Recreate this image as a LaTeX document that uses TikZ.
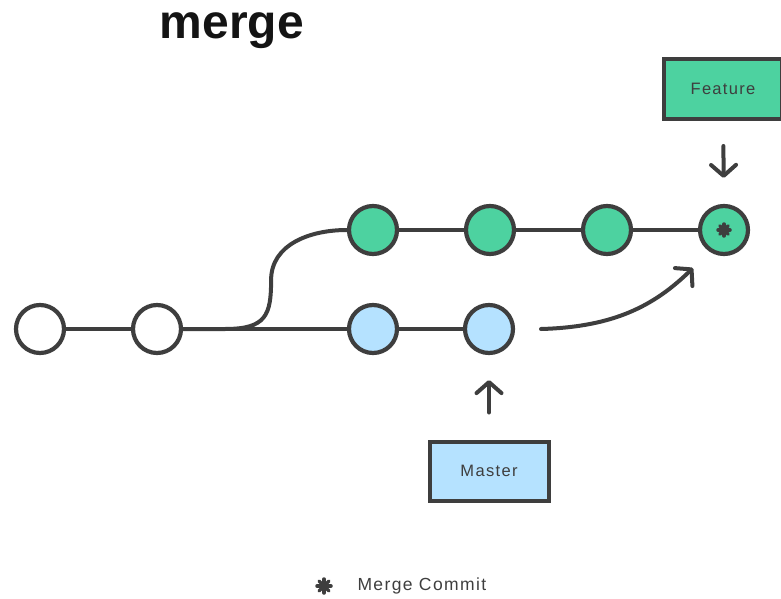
\documentclass[tikz,border=0pt]{standalone}
\usepackage{fontspec}
\setmainfont{Liberation Sans}
\usepackage{tikz}
\usetikzlibrary{arrows.meta}

\definecolor{gitgreen}{RGB}{77,210,160}
\definecolor{gitblue}{RGB}{181,226,255}
\definecolor{gitgray}{RGB}{62,62,62}

\tikzset{
	commit/.style={draw=gitgray, circle, line width=4.2pt, minimum size=48pt, inner sep=0pt},
	tagbox/.style={draw=gitgray, line width=4pt, text=gitgray, inner sep=0pt,
		font=\fontsize{16.5}{18}\selectfont\addfontfeature{LetterSpace=8}},
	edge/.style={draw=gitgray, line width=4pt},
	ptr/.style={draw=gitgray, line width=4pt, line cap=round,
		-{Straight Barb[length=11pt,width=25pt,round]}},
	spoke/.style={draw=gitgray, line width=3.5pt, line cap=round},
}

\begin{document}
\begin{tikzpicture}[x=1pt, y=-1pt]
	\useasboundingbox (0,0) rectangle (781,599);
	\draw (232,39) node(title) [anchor=base, font=\bfseries\fontsize{48}{48}\selectfont, text={rgb,255:red,20;green,20;blue,20}] {merge};
	\draw (40,329) node(c1) [commit, fill=white] {};
	\draw (157,329) node(c2) [commit, fill=white] {};
	\draw (373,329) node(b1) [commit, fill=gitblue] {};
	\draw (489,329) node(b2) [commit, fill=gitblue] {};
	\draw (373,230) node(g1) [commit, fill=gitgreen] {};
	\draw (490,230) node(g2) [commit, fill=gitgreen] {};
	\draw (607,230) node(g3) [commit, fill=gitgreen] {};
	\draw (724,230) node(m4) [commit, fill=gitgreen] {};
	\draw (723,89) node(feat) [tagbox, fill=gitgreen, minimum width=118pt, minimum height=60pt] {Feature};
	\draw (489,471) node(mast) [tagbox, fill=gitblue, minimum width=119pt, minimum height=59pt] {Master};
	\draw (354,586) node(legend) [anchor=west, text=gitgray, font=\fontsize{17.5}{19}\selectfont\addfontfeature{LetterSpace=8}] {Merge Commit};
	\coordinate (legstar) at (324,586);
	\coordinate (mstart) at (541,329);
	\coordinate (mend) at (693,268);
	% history
	\path[edge] (c1) -- (c2);
	\path[edge] (c2) -- (b1);
	\path[edge] (b1) -- (b2);
	\path[edge] (c2.east) -- ++(42,0) .. controls +(41,0) and +(0,35) .. ++(46,-49)
		.. controls +(0,-35) and +(-38,0) .. (g1.west);
	\path[edge] (g1) -- (g2);
	\path[edge] (g2) -- (g3);
	\path[edge] (g3) -- (m4);
	% pointers
	\path[ptr, shorten <=25pt, shorten >=26pt] (feat) -- (m4);
	\path[ptr, shorten <=27pt, shorten >=25pt] (mast) -- (b2);
	\path[ptr] (mstart) .. controls (615,327) and (655,305) .. (mend);
	% merge marks
	\foreach \a in {0,45,90,135} {
		\path[spoke] ([shift={(\a:6)}]m4.center) -- ([shift={(\a+180:6)}]m4.center);
		\path[spoke] ([shift={(\a:7)}]legstar) -- ([shift={(\a+180:7)}]legstar);
	}
\end{tikzpicture}
\end{document}
